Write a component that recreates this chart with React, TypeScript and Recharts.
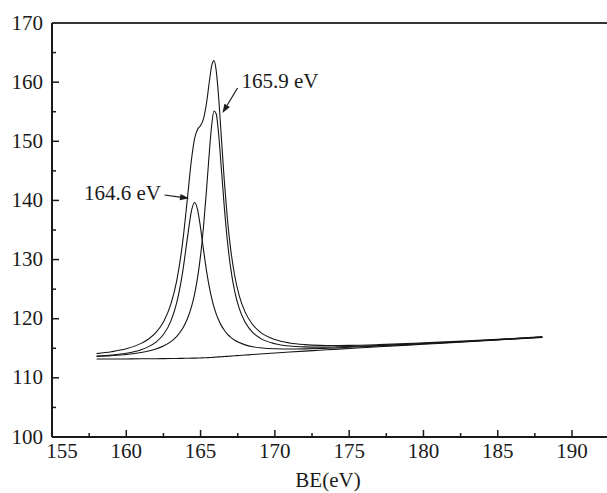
import React from 'react';
import { LineChart, Line, XAxis, YAxis, ReferenceLine, ReferenceDot } from 'recharts';

// Binding energy (eV) sample points
const energies = [158, 159, 160, 161, 161.5, 162, 162.5, 163, 163.4, 163.8, 164.1, 164.4, 164.6, 164.8, 165.0, 165.2, 165.4, 165.6, 165.75, 165.9, 166.05, 166.2, 166.4, 166.6, 166.8, 167.0, 167.3, 167.6, 168, 168.5, 169, 170, 171, 172, 173, 174, 175, 177, 180, 183, 185, 188];

// Background (Shirley-type) line
const background = [113.2, 113.2, 113.2, 113.22, 113.23, 113.24, 113.25, 113.27, 113.28, 113.3, 113.31, 113.33, 113.34, 113.35, 113.37, 113.39, 113.41, 113.43, 113.45, 113.48, 113.51, 113.54, 113.57, 113.61, 113.64, 113.68, 113.73, 113.79, 113.86, 113.94, 114.03, 114.2, 114.36, 114.52, 114.67, 114.82, 114.97, 115.26, 115.68, 116.1, 116.4, 116.85];

// Component at 164.6 eV
const peak1Curve = [113.68, 113.86, 114.17, 114.77, 115.28, 116.05, 117.33, 119.59, 122.75, 127.99, 133.41, 138.39, 139.64, 138.41, 135.33, 131.6, 128.1, 125.2, 123.44, 122.0, 120.82, 119.86, 118.83, 118.04, 117.41, 116.92, 116.36, 115.96, 115.58, 115.27, 115.09, 114.91, 114.87, 114.9, 114.97, 115.06, 115.17, 115.4, 115.77, 116.16, 116.45, 116.89];

// Component at 165.9 eV
const peak2Curve = [113.62, 113.75, 113.94, 114.28, 114.54, 114.89, 115.38, 116.13, 117.03, 118.38, 119.9, 122.12, 124.2, 126.98, 130.71, 135.64, 141.79, 148.51, 152.79, 155.12, 154.67, 151.62, 145.32, 138.79, 133.27, 129.03, 124.59, 121.75, 119.39, 117.69, 116.72, 115.77, 115.38, 115.24, 115.2, 115.23, 115.29, 115.48, 115.82, 116.19, 116.47, 116.9];

// Overall envelope
const envelope = [114.1, 114.41, 114.91, 115.83, 116.58, 117.7, 119.46, 122.46, 126.49, 133.07, 140.0, 147.18, 150.5, 152.04, 152.67, 153.85, 156.48, 160.28, 162.78, 163.64, 161.98, 157.94, 150.58, 143.22, 137.04, 132.27, 127.22, 123.92, 121.11, 119.02, 117.78, 116.48, 115.89, 115.62, 115.5, 115.47, 115.49, 115.62, 115.91, 116.25, 116.52, 116.94];

const xTicks = [155, 157.5, 160, 162.5, 165, 167.5, 170, 172.5, 175, 177.5, 180, 182.5, 185, 187.5, 190];
const yTicks = [100, 105, 110, 115, 120, 125, 130, 135, 140, 145, 150, 155, 160, 165, 170];

// Annotations (data coordinates)
const labelA = { text: '164.6 eV', x: 162.34, y: 140.07 };
const arrowA = [{ x: 162.57, y: 140.92 }, { x: 164.22, y: 140.36 }];
const labelB = { text: '165.9 eV', x: 167.75, y: 158.96 };
const arrowB = [{ x: 167.49, y: 159.01 }, { x: 166.475, y: 154.78 }];

const data = energies.map((e, i) => ({
  be: e,
  background: background[i],
  peak1: peak1Curve[i],
  peak2: peak2Curve[i],
  envelope: envelope[i],
}));

const FONT = '"Liberation Serif", "Times New Roman", serif';
const INK = '#1a1a1a';

const XTick = (props: any) => {
  const { x, y, payload } = props;
  const v = payload.value;
  const major = v % 5 === 0;
  const len = major ? 7 : 4;
  const dx = v === 155 ? 10 : 0;
  return (
    <g>
      {v !== 155 && <line x1={x} y1={y} x2={x} y2={y - len} stroke={INK} strokeWidth={1.5} />}
      {major && (
        <text x={x + dx} y={y + 21} textAnchor="middle" fontFamily={FONT} fontSize={21} fill={INK}>
          {v}
        </text>
      )}
    </g>
  );
};

const YTick = (props: any) => {
  const { x, y, payload } = props;
  const v = payload.value;
  const major = v % 10 === 0;
  const len = major ? 7 : 4;
  return (
    <g>
      {v !== 100 && v !== 170 && <line x1={x} y1={y} x2={x + len} y2={y} stroke={INK} strokeWidth={1.5} />}
      {major && (
        <text x={x - 9} y={y + 6.5} textAnchor="end" fontFamily={FONT} fontSize={21} fill={INK}>
          {v}
        </text>
      )}
    </g>
  );
};

const ArrowShape = (props: any) => {
  const { x1, y1, x2, y2 } = props;
  const dx = x2 - x1;
  const dy = y2 - y1;
  const L = Math.sqrt(dx * dx + dy * dy) || 1;
  const ux = dx / L;
  const uy = dy / L;
  const hl = 9;
  const hw = 3.2;
  const bx = x2 - ux * hl;
  const by = y2 - uy * hl;
  const pts = `${x2},${y2} ${bx - uy * hw},${by + ux * hw} ${bx + uy * hw},${by - ux * hw}`;
  return (
    <g>
      <line x1={x1} y1={y1} x2={bx} y2={by} stroke={INK} strokeWidth={1.2} />
      <polygon points={pts} fill={INK} />
    </g>
  );
};

const makeLabel = (text: string, anchor: string) => (props: any) => (
  <text x={props.cx} y={props.cy} textAnchor={anchor} fontFamily={FONT} fontSize={21} fill={INK}>
    {text}
  </text>
);

export default function App() {
  return (
    <div style={{ position: 'absolute', left: 0, top: 0, width: 607, height: 493, overflow: 'hidden', background: '#fff' }}>
      <LineChart width={620} height={493} data={data} margin={{ top: 23, right: 8, bottom: 0, left: 0 }}>
        <XAxis
          dataKey="be"
          type="number"
          domain={[155, 192.69]}
          ticks={xTicks}
          interval={0}
          allowDataOverflow
          tickSize={0}
          tickMargin={0}
          tick={<XTick />}
          axisLine={{ stroke: INK, strokeWidth: 2 }}
          height={56}
          label={{ value: 'BE(eV)', position: 'insideBottom', offset: 6, dx: -4, fontFamily: FONT, fontSize: 21, fill: INK }}
        />
        <YAxis
          type="number"
          domain={[100, 170]}
          ticks={yTicks}
          interval={0}
          allowDataOverflow
          tickSize={0}
          tickMargin={0}
          tick={<YTick />}
          axisLine={{ stroke: INK, strokeWidth: 2 }}
          width={52}
        />
        <ReferenceLine y={170} stroke="#333" strokeWidth={2} />
        <Line type="monotone" dataKey="background" stroke="#151515" strokeWidth={1.1} dot={false} isAnimationActive={false} />
        <Line type="monotone" dataKey="peak1" stroke="#151515" strokeWidth={1.1} dot={false} isAnimationActive={false} />
        <Line type="monotone" dataKey="peak2" stroke="#151515" strokeWidth={1.1} dot={false} isAnimationActive={false} />
        <Line type="monotone" dataKey="envelope" stroke="#151515" strokeWidth={1.1} dot={false} isAnimationActive={false} />
        <ReferenceLine segment={arrowA} shape={(p: any) => <ArrowShape {...p} />} />
        <ReferenceLine segment={arrowB} shape={(p: any) => <ArrowShape {...p} />} />
        <ReferenceDot x={labelA.x} y={labelA.y} r={0} shape={makeLabel(labelA.text, 'end')} />
        <ReferenceDot x={labelB.x} y={labelB.y} r={0} shape={makeLabel(labelB.text, 'start')} />
      </LineChart>
    </div>
  );
}
